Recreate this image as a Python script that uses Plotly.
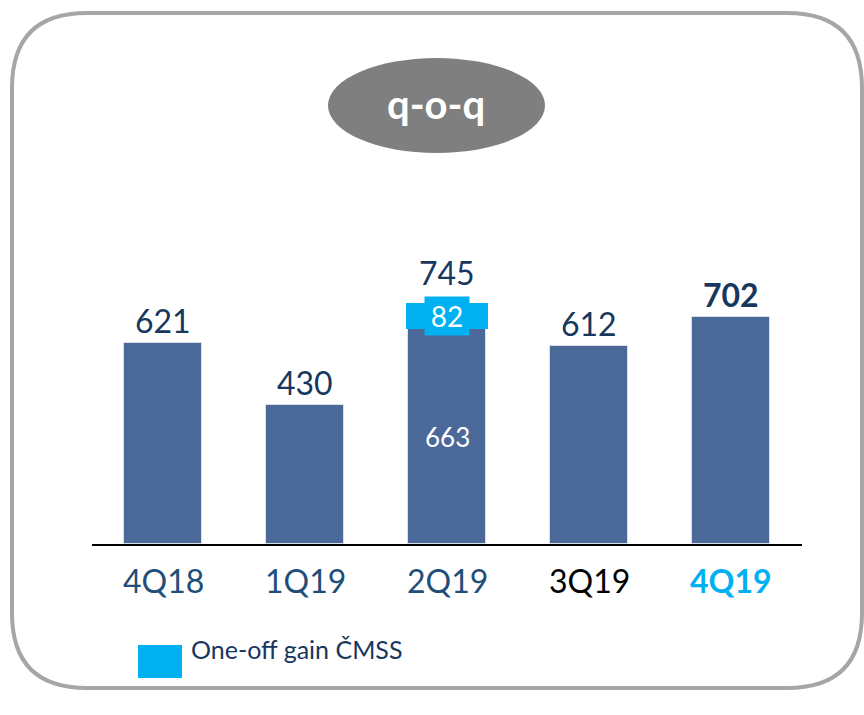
import plotly.graph_objects as go

categories = ["4Q18", "1Q19", "2Q19", "3Q19", "4Q19"]
base_values = [621, 430, 663, 612, 702]
oneoff_values = [0, 0, 82, 0, 0]
totals = [b + o for b, o in zip(base_values, oneoff_values)]
tick_colors = ["#1f4e79", "#1f4e79", "#1f4e79", "#000000", "#00b0f0"]
legend_label = "One-off gain ČMSS"
title_text = "q-o-q"

W, H = 864, 715
L, R, T, B = 92, 802, 220, 544
FONT = "Lato"
NAVY = "#17375e"
BAR = "#4a6998"
CYAN = "#00b0f0"


def px(x):
    return (x - L) / (R - L)


def py(y):
    return (B - y) / (B - T)


fig = go.Figure()
fig.add_trace(go.Bar(x=categories, y=base_values, marker=dict(color=BAR, line=dict(color="#d9dee8", width=1)),
                     width=0.545, showlegend=False, hoverinfo="skip"))
fig.add_trace(go.Bar(x=categories, y=oneoff_values, marker=dict(color=CYAN, line=dict(width=0)),
                     width=0.58, showlegend=False, hoverinfo="skip"))

annotations = []
for i, c in enumerate(categories):
    bold = i == len(categories) - 1
    txt = f"<b>{totals[i]}</b>" if bold else str(totals[i])
    shift = 22 if oneoff_values[i] == 0 else 30
    annotations.append(dict(x=c, y=totals[i], xref="x", yref="y", text=txt, showarrow=False,
                            yanchor="middle", yshift=shift,
                            font=dict(family=FONT, size=32, color=NAVY)))
    tt = f"<b>{c}</b>" if bold else c
    annotations.append(dict(x=c, y=py(580), xref="x", yref="paper", text=tt, showarrow=False,
                            yanchor="middle", font=dict(family=FONT, size=32, color=tick_colors[i])))
    if oneoff_values[i] > 0:
        annotations.append(dict(x=c, y=base_values[i] + oneoff_values[i] / 2, xref="x", yref="y",
                                text=str(oneoff_values[i]), showarrow=False, bgcolor=CYAN,
                                width=44, height=38, borderpad=0,
                                font=dict(family=FONT, size=28, color="white")))
        annotations.append(dict(x=c, y=base_values[i] * 0.5, xref="x", yref="y",
                                text=str(base_values[i]), showarrow=False,
                                font=dict(family=FONT, size=26, color="white")))

annotations.append(dict(x=px(436), y=py(104), xref="paper", yref="paper", text=f"<b>{title_text}</b>",
                        showarrow=False, xanchor="center", yanchor="middle",
                        font=dict(family=FONT, size=40, color="white")))
annotations.append(dict(x=px(189), y=py(649), xref="paper", yref="paper", text=legend_label,
                        showarrow=False, xanchor="left", yanchor="middle",
                        font=dict(family=FONT, size=25, color=NAVY)))

# rounded border
x0, x1, y0, y1, r = 12, 862, 13, 688, 75
pts = [
    f"M {px(x0 + r)},{py(y0)}", f"L {px(x1 - r)},{py(y0)}", f"Q {px(x1)},{py(y0)} {px(x1)},{py(y0 + r)}",
    f"L {px(x1)},{py(y1 - r)}", f"Q {px(x1)},{py(y1)} {px(x1 - r)},{py(y1)}",
    f"L {px(x0 + r)},{py(y1)}", f"Q {px(x0)},{py(y1)} {px(x0)},{py(y1 - r)}",
    f"L {px(x0)},{py(y0 + r)}", f"Q {px(x0)},{py(y0)} {px(x0 + r)},{py(y0)}", "Z",
]
shapes = [
    dict(type="path", xref="paper", yref="paper", path=" ".join(pts), line=dict(color="#a6a6a6", width=4),
         layer="below"),
    dict(type="circle", xref="paper", yref="paper", x0=px(328), x1=px(545), y0=py(58), y1=py(153),
         fillcolor="#7f7f7f", line=dict(width=0)),
    dict(type="rect", xref="paper", yref="paper", x0=px(138), x1=px(182), y0=py(645), y1=py(678),
         fillcolor=CYAN, line=dict(width=0)),
]

fig.update_layout(
    width=W, height=H, barmode="stack", bargap=0,
    margin=dict(l=L, r=W - R, t=T, b=H - B),
    paper_bgcolor="white", plot_bgcolor="white",
    xaxis=dict(showticklabels=False, showline=True, linecolor="black", linewidth=2, ticks="",
               showgrid=False, zeroline=False, range=[-0.5, 4.5]),
    yaxis=dict(visible=False, range=[0, 1000], showgrid=False, zeroline=False),
    annotations=annotations, shapes=shapes, showlegend=False,
)
fig.write_html("out.html", config={"displayModeBar": False},
               post_script="document.body.style.margin='0';document.body.style.overflow='hidden';")
